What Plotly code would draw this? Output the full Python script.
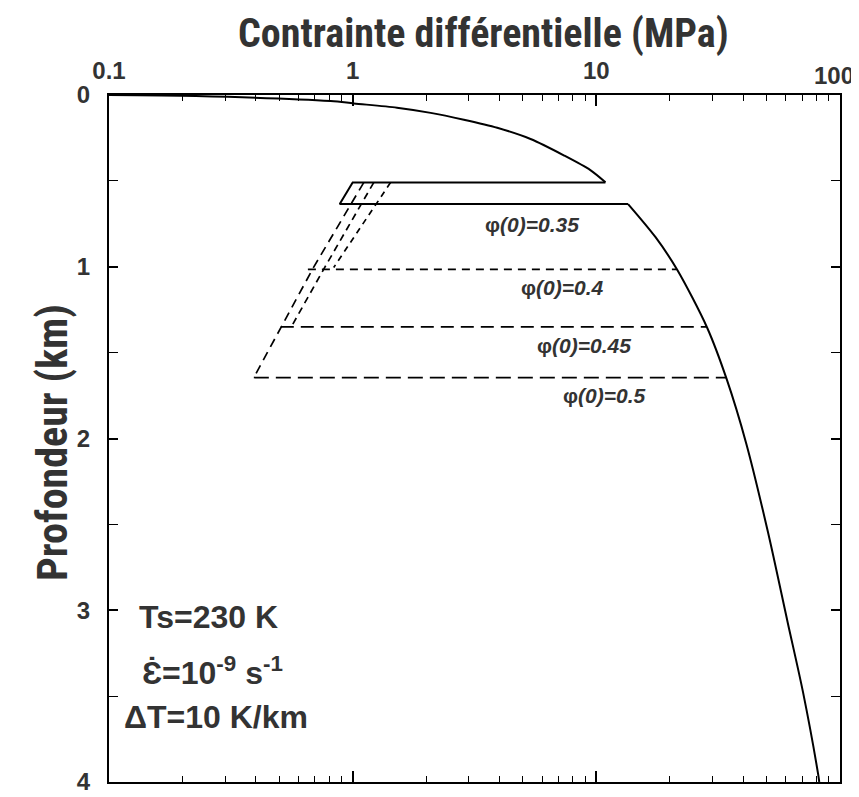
import plotly.graph_objects as go

# ---------------- data ----------------
brittle_stress = [0.1, 0.227, 0.812, 1.012, 1.52, 2.09, 2.86, 3.92, 5.37, 7.35, 9.45, 10.9]
brittle_depth = [0.0, 0.006, 0.035, 0.049, 0.074, 0.104, 0.144, 0.191, 0.256, 0.351, 0.437, 0.508]

transition_stress = [10.9, 1.0, 0.885, 13.5]
transition_depth = [0.51, 0.51, 0.635, 0.635]

ductile_stress = [13.5, 17.5, 21.5, 28.5, 34.3, 41.2, 50.7, 61.0, 70.5, 81.3, 82.2]
ductile_depth = [0.635, 0.828, 1.019, 1.355, 1.656, 2.027, 2.549, 3.071, 3.477, 3.953, 4.0]

phi_labels = ["\u03c6<i>(0)=0.35</i>", "\u03c6<i>(0)=0.4</i>", "\u03c6<i>(0)=0.45</i>", "\u03c6<i>(0)=0.5</i>"]

slant_04_stress = [1.43, 0.836]
slant_04_depth = [0.51, 1.004]
flat_04_stress = [0.655, 21.4]
flat_04_depth = [1.015, 1.015]

slant_045_stress = [1.22, 0.767, 0.56]
slant_045_depth = [0.51, 1.005, 1.35]
flat_045_stress = [0.507, 28.4]
flat_045_depth = [1.35, 1.35]

slant_05_stress = [1.11, 0.69, 0.393]
slant_05_depth = [0.51, 1.005, 1.645]
flat_05_stress = [0.393, 34.1]
flat_05_depth = [1.645, 1.645]

x_tick_vals = [0.1, 1, 10]
x_tick_text = ["0.1", "1", "10"]
x_last_tick_text = "100"
y_tick_vals = [0, 1, 2, 3, 4]
y_tick_text = ["0", "1", "2", "3", "4"]

# ---------------- figure ----------------
INK = "black"
TXT = "#333333"
fig = go.Figure()

def add_line(x, y, dash="solid", width=2.0, shape="linear"):
    fig.add_trace(go.Scatter(x=x, y=y, mode="lines",
                             line=dict(color=INK, width=width, dash=dash, shape=shape, smoothing=0.8),
                             hoverinfo="skip", showlegend=False))

add_line(brittle_stress, brittle_depth, shape="spline")
add_line(transition_stress, transition_depth)
add_line(ductile_stress, ductile_depth, shape="spline")

add_line(slant_04_stress, slant_04_depth, dash="6px,5px", width=1.7)
add_line(flat_04_stress, flat_04_depth, dash="8px,6px", width=1.7)
add_line(slant_045_stress, slant_045_depth, dash="7px,5px", width=1.7)
add_line(flat_045_stress, flat_045_depth, dash="13px,7px", width=1.7)
add_line(slant_05_stress, slant_05_depth, dash="9px,6px", width=1.7)
add_line(flat_05_stress, flat_05_depth, dash="15px,7px", width=1.7)

minor_x = [m * 10.0 ** e for e in (-1, 0, 1) for m in range(2, 10)] + [100]

tick_font = dict(family="Liberation Sans", size=24, color=TXT, weight="bold")

# page body has an 8px margin: figure is 851x789 so it fits the 859x797 window
fig.update_layout(
    width=851, height=789,
    margin=dict(l=101, r=19, t=87, b=15),
    plot_bgcolor="white", paper_bgcolor="white",
    showlegend=False,
    xaxis=dict(
        type="log", range=[-1, 2], side="top", automargin=False,
        showgrid=False, zeroline=False,
        showline=True, linecolor=INK, linewidth=2, mirror="ticks",
        ticks="inside", ticklen=11, tickwidth=1.5, tickcolor=INK,
        tickmode="array", tickvals=x_tick_vals, ticktext=x_tick_text,
        ticklabelstandoff=4, ticklabeloverflow="allow",
        tickfont=tick_font,
        minor=dict(ticks="inside", ticklen=6, tickwidth=1.2, tickcolor=INK,
                   tickmode="array", tickvals=minor_x, showgrid=False),
    ),
    yaxis=dict(
        range=[4, 0], showgrid=False, zeroline=False, automargin=False,
        showline=True, linecolor=INK, linewidth=2, mirror="ticks",
        ticks="inside", ticklen=9, tickwidth=1.5, tickcolor=INK,
        tickmode="array", tickvals=y_tick_vals, ticktext=y_tick_text,
        ticklabelstandoff=12, ticklabeloverflow="allow",
        tickfont=tick_font,
        minor=dict(ticks="inside", ticklen=9, tickwidth=1.3, tickcolor=INK, dtick=0.5, showgrid=False),
    ),
)

# last decade label, kept inside the window
fig.add_annotation(text=x_last_tick_text, xref="paper", yref="paper",
                   x=1 + (856 - 840) / 731, y=1 + (95 - 76) / 687,
                   xanchor="right", yanchor="middle", showarrow=False, font=tick_font)

ann_font_big = dict(family="Liberation Sans Narrow, Roboto Condensed, Roboto", size=40, color=TXT, weight="bold")
fig.add_annotation(text="Contrainte différentielle (MPa)", xref="paper", yref="paper",
                   x=(483 - 109) / 731, y=1 + (95 - 34) / 687, xanchor="center", yanchor="middle",
                   showarrow=False, font=ann_font_big)
fig.add_annotation(text="Profondeur (km)", xref="paper", yref="paper",
                   x=(52 - 109) / 731, y=1 - (443 - 95) / 687, xanchor="center", yanchor="middle",
                   textangle=-90, showarrow=False, font=dict(ann_font_big, size=42))

phi_pos = [(532, 224), (562, 287), (584, 345), (604, 396)]
for lab, (px, py) in zip(phi_labels, phi_pos):
    fig.add_annotation(text=lab, xref="paper", yref="paper",
                       x=(px - 109) / 731, y=1 - (py - 95) / 687,
                       xanchor="center", yanchor="middle", showarrow=False,
                       font=dict(family="Liberation Sans", size=21, color=TXT, weight="bold"))

params = ["Ts=230 K", "\u0190\u0307=10<sup>-9</sup> s<sup>-1</sup>", "\u0394T=10 K/km"]
params_pos = [(208, 617), (212, 671), (216, 717)]
for lab, (px, py) in zip(params, params_pos):
    fig.add_annotation(text=lab, xref="paper", yref="paper",
                       x=(px - 109) / 731, y=1 - (py - 95) / 687,
                       xanchor="center", yanchor="middle", showarrow=False,
                       font=dict(family="Liberation Sans", size=32, color=TXT, weight="bold"))

fig.write_html("out.html")
